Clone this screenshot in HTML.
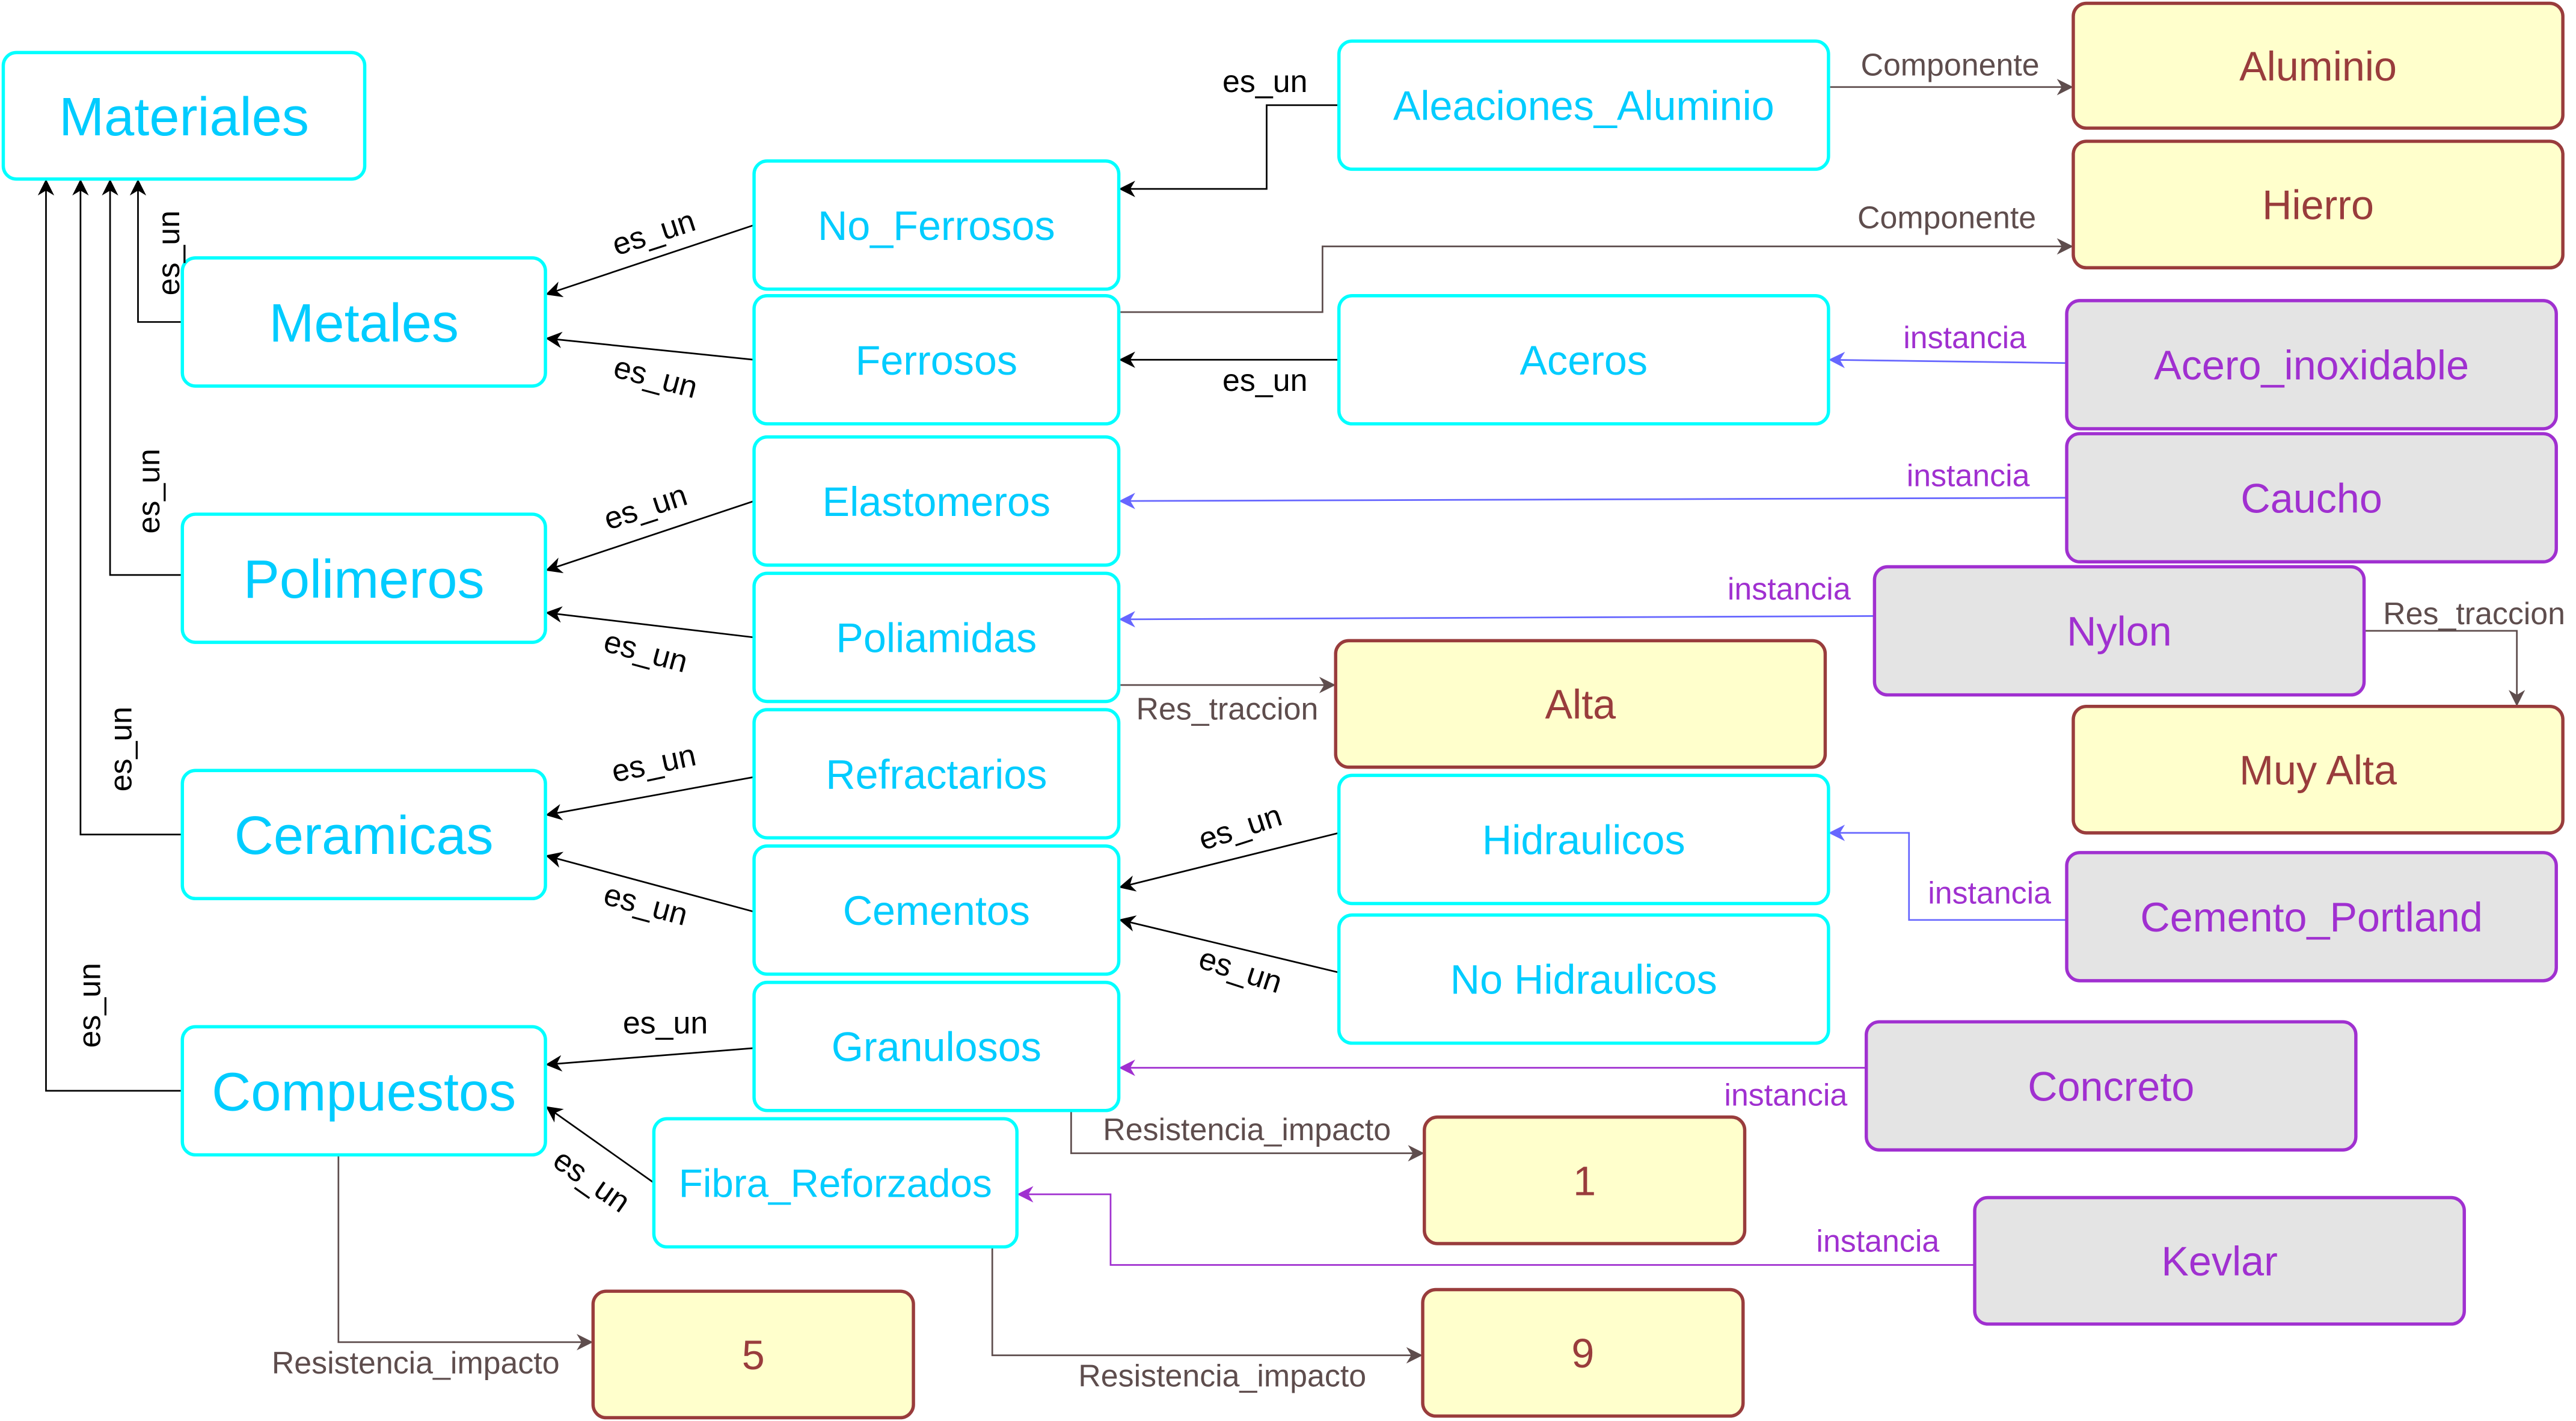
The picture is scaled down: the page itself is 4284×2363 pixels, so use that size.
<!DOCTYPE html>
<html><head><meta charset="utf-8">
<style>
html,body{margin:0;padding:0;background:#fff;}
svg{display:block;}
text{font-family:"Liberation Sans",sans-serif;}
</style></head>
<body>
<svg id="d" xmlns="http://www.w3.org/2000/svg" width="4284" height="2363" viewBox="0 0 1568 865" preserveAspectRatio="none">
<defs>
<marker id="mk" viewBox="0 0 10 10" refX="9" refY="5" markerWidth="10" markerHeight="10" markerUnits="userSpaceOnUse" orient="auto"><path d="M0,0 L10,5 L0,10 L3,5 z" fill="#000"/></marker>
<marker id="mg" viewBox="0 0 10 10" refX="9" refY="5" markerWidth="10" markerHeight="10" markerUnits="userSpaceOnUse" orient="auto"><path d="M0,0 L10,5 L0,10 L3,5 z" fill="#5e4d4d"/></marker>
<marker id="mb" viewBox="0 0 10 10" refX="9" refY="5" markerWidth="10" markerHeight="10" markerUnits="userSpaceOnUse" orient="auto"><path d="M0,0 L10,5 L0,10 L3,5 z" fill="#6666ff"/></marker>
<marker id="mp" viewBox="0 0 10 10" refX="9" refY="5" markerWidth="10" markerHeight="10" markerUnits="userSpaceOnUse" orient="auto"><path d="M0,0 L10,5 L0,10 L3,5 z" fill="#a030d0"/></marker>
</defs>
<g id="edges"></g>
<g id="nodes"></g>
<g id="labels"></g>
</svg>
<script>
const NS="http://www.w3.org/2000/svg";
// [label, x1, y1, x2, y2, type, fontSize]
const nodes=[
["Materiales",2,32,222,109,"c",33],
["Metales",111,157,332,235,"c",33],
["Polimeros",111,313,332,391,"c",33],
["Ceramicas",111,469,332,547,"c",33],
["Compuestos",111,625,332,703,"c",33],
["No_Ferrosos",459,98,681,176,"c",25],
["Ferrosos",459,180,681,258,"c",25],
["Elastomeros",459,266,681,344,"c",25],
["Poliamidas",459,349,681,427,"c",25],
["Refractarios",459,432,681,510,"c",25],
["Cementos",459,515,681,593,"c",25],
["Granulosos",459,598,681,676,"c",25],
["Fibra_Reforzados",398,681,619,759,"c",24],
["Aleaciones_Aluminio",815,25,1113,103,"c",25],
["Aceros",815,180,1113,258,"c",25],
["Hidraulicos",815,472,1113,550,"c",25],
["No Hidraulicos",815,557,1113,635,"c",25],
["Alta",813,390,1111,467,"y",25],
["1",867,680,1062,757,"y",25],
["5",361,786,556,863,"y",25],
["9",866,785,1061,862,"y",25],
["Aluminio",1262,2,1560,78,"y",25],
["Hierro",1262,86,1560,163,"y",25],
["Muy Alta",1262,430,1560,507,"y",25],
["Acero_inoxidable",1258,183,1556,261,"g",25],
["Caucho",1258,264,1556,342,"g",25],
["Nylon",1141,345,1439,423,"g",25],
["Cemento_Portland",1258,519,1556,597,"g",25],
["Concreto",1136,622,1434,700,"g",25],
["Kevlar",1202,729,1500,806,"g",25]
];
// [points, kind]
const edges=[
["111,196 84,196 84,110","k"],
["111,350 67,350 67,110","k"],
["111,508 49,508 49,110","k"],
["111,664 28,664 28,110","k"],
["459,137 333,179","k"],
["459,219 333,206","k"],
["459,305 333,347","k"],
["459,388 333,373","k"],
["459,473 333,496","k"],
["459,555 333,521","k"],
["459,638 333,648","k"],
["398,720 333,674","k"],
["815,64 771,64 771,115 682,115","k"],
["815,219 682,219","k"],
["815,507 682,540","k"],
["815,592 682,560","k"],
["1114,53 1261,53","m"],
["682,190 805,190 805,150 1261,150","m"],
["1258,221 1114,219","b"],
["1258,303 682,305","b"],
["1141,375 682,377","b"],
["1439,384 1532,384 1532,429","m"],
["682,417 812,417","m"],
["1258,560 1162,560 1162,507 1114,507","b"],
["1136,650 682,650","p"],
["652,676 652,702 866,702","m"],
["1202,770 676,770 676,727 620,727","p"],
["206,703 206,817 360,817","m"],
["604,759 604,825 865,825","m"]
];
// [text, x, y, rotation, kind, size]
const labels=[
["es_un",103,160,-90,"k",19],["es_un",91,305,-90,"k",19],["es_un",74,462,-90,"k",19],["es_un",55,618,-90,"k",19],
["es_un",398,148,-18,"k",19],["es_un",399,236,15,"k",19],["es_un",393,315,-18,"k",19],["es_un",393,403,15,"k",19],
["es_un",398,471,-12,"k",19],["es_un",393,557,15,"k",19],["es_un",405,629,0,"k",19],["es_un",360,725,35,"k",19],
["es_un",770,56,0,"k",19],["es_un",770,238,0,"k",19],["es_un",755,510,-18,"k",19],["es_un",755,597,18,"k",19],
["Componente",1187,46,0,"m",19],["Componente",1185,139,0,"m",19],
["instancia",1196,212,0,"p",19],["instancia",1198,296,0,"p",19],["instancia",1089,365,0,"p",19],
["Res_traccion",1506,380,0,"m",19],["Res_traccion",747,438,0,"m",19],
["instancia",1211,550,0,"p",19],["instancia",1087,673,0,"p",19],["instancia",1143,762,0,"p",19],
["Resistencia_impacto",759,694,0,"m",19],["Resistencia_impacto",253,836,0,"m",19],["Resistencia_impacto",744,844,0,"m",19]
];
const sty={c:{fill:"#fff",stroke:"#00ffff",text:"#00ccff"},y:{fill:"#ffffcc",stroke:"#993c3c",text:"#993c3c"},g:{fill:"#e4e4e4",stroke:"#a030d0",text:"#a030d0"}};
const ecol={k:["#000","mk"],m:["#5e4d4d","mg"],b:["#6666ff","mb"],p:["#a030d0","mp"]};
const lcol={k:"#000",m:"#5e4d4d",p:"#a030d0"};
const gE=document.getElementById("edges"),gN=document.getElementById("nodes"),gL=document.getElementById("labels");
edges.forEach(e=>{
  const p=document.createElementNS(NS,"polyline");
  p.setAttribute("points",e[0]);
  p.setAttribute("fill","none");
  p.setAttribute("stroke",ecol[e[1]][0]);
  p.setAttribute("stroke-width","1");
  p.setAttribute("marker-end","url(#"+ecol[e[1]][1]+")");
  
  
  gE.appendChild(p);
});
nodes.forEach(n=>{
  const s=sty[n[5]];
  const g=document.createElementNS(NS,"g");
  
  
  const r=document.createElementNS(NS,"rect");
  r.setAttribute("x",n[1]);r.setAttribute("y",n[2]);
  r.setAttribute("width",n[3]-n[1]);r.setAttribute("height",n[4]-n[2]);
  r.setAttribute("rx",8);r.setAttribute("fill",s.fill);r.setAttribute("stroke",s.stroke);r.setAttribute("stroke-width","2");
  g.appendChild(r);
  const t=document.createElementNS(NS,"text");
  t.setAttribute("x",(n[1]+n[3])/2);t.setAttribute("y",(n[2]+n[4])/2+n[6]*0.36);
  t.setAttribute("text-anchor","middle");t.setAttribute("font-size",n[6]);t.setAttribute("fill",s.text);
  t.textContent=n[0];
  g.appendChild(t);
  gN.appendChild(g);
});
labels.forEach(l=>{
  const t=document.createElementNS(NS,"text");
  t.setAttribute("x",l[1]);t.setAttribute("y",l[2]);
  t.setAttribute("text-anchor","middle");
  t.setAttribute("font-size",l[5]);
  t.setAttribute("fill",lcol[l[4]]);
  if(l[3]) t.setAttribute("transform","rotate("+l[3]+" "+l[1]+" "+(l[2]-6)+")");
  t.textContent=l[0];
  
  
  gL.appendChild(t);
});
</script>
</body></html>
